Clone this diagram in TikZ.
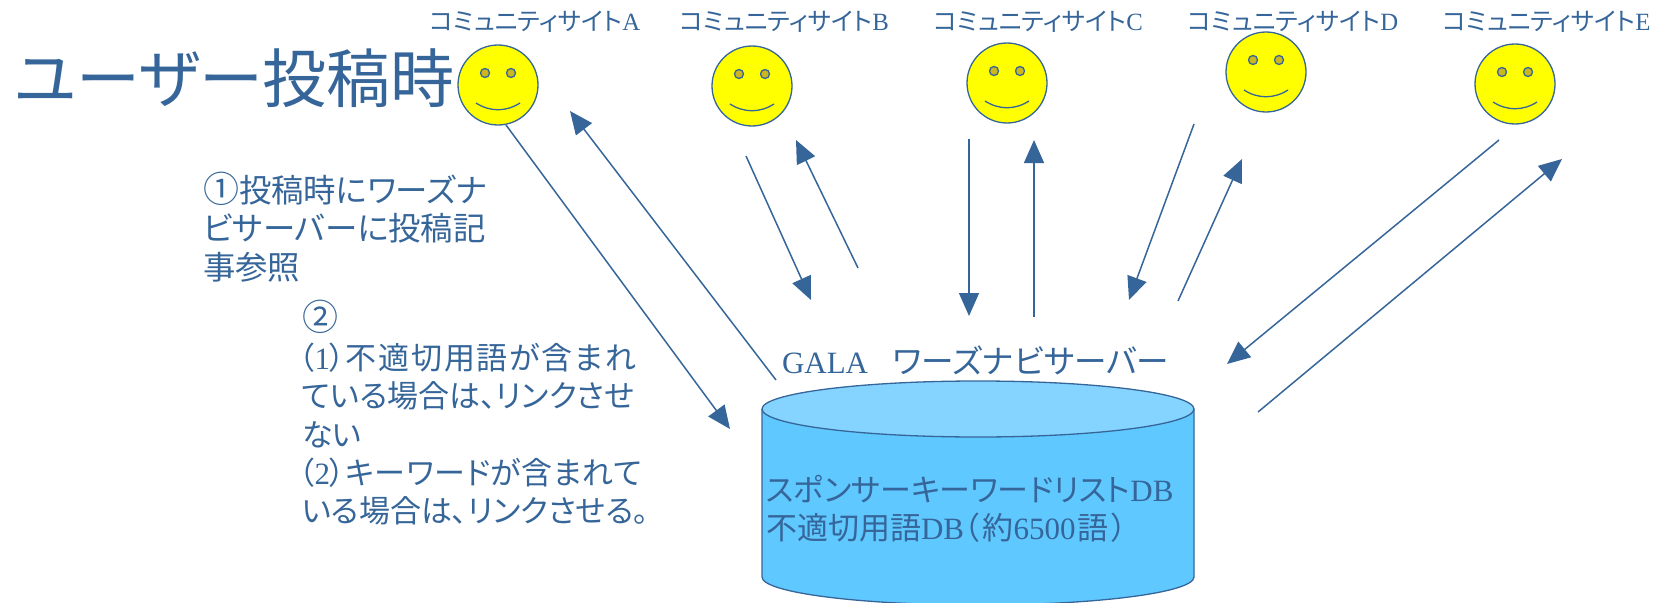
\documentclass[tikz,border=0pt]{standalone}
\usepackage{fontspec}
\usetikzlibrary{arrows.meta}
\setmainfont{Noto Sans CJK JP}[RawFeature=+palt]
\newfontfamily\lat{Liberation Serif}
\definecolor{ink}{HTML}{366699}
\definecolor{dbside}{HTML}{5FC8FF}
\definecolor{dbtop}{HTML}{85D3FF}
\definecolor{eye}{HTML}{CCB81E}
\definecolor{smiley}{HTML}{FFFF00}
\newcommand{\fs}[2]{\fontsize{#1}{#2}\selectfont}
\newcommand{\bigmark}[1]{{\fontsize{36}{38}\selectfont #1}}
\tikzset{
  x=1pt,y=-1pt,
  txt/.style={inner sep=0pt,outer sep=0pt,text=ink,anchor=base west,align=left},
  site/.style={txt,font=\fs{24.8}{30}},
  face/.style={circle,draw=ink,line width=1.3pt,fill=smiley,minimum size=80pt,inner sep=0pt},
  eyeball/.style={circle,draw=ink,line width=1.3pt,fill=eye,minimum size=9pt,inner sep=0pt},
  smile/.style={draw=ink,line width=1.3pt},
  conn/.style={draw=ink,line width=1.5pt},
  arr/.style={conn,-{Stealth[length=23pt,width=20pt,inset=0pt]}},
  dbline/.style={draw=ink,line width=1.3pt}
}
\begin{document}
\begin{tikzpicture}
\useasboundingbox (0,0) rectangle (1656,602);
% faces
\foreach \n/\cx/\cy in {A/498/85,B/752/86,C/1007/83,D/1266/72,E/1515/84}{
  \node[face] (face\n) at (\cx,\cy) {};
  \node[eyeball] (eyeL\n) at (\cx-13,\cy-12) {};
  \node[eyeball] (eyeR\n) at (\cx+13,\cy-12) {};
  \draw[smile] (\cx-22,\cy+18) .. controls (\cx-8,\cy+27) and (\cx+8,\cy+27) .. (\cx+22,\cy+18);
}
% site labels
\node[site] (siteA) at (430,31) {コミュニティサイト{\lat A}};
\node[site] (siteB) at (680,31) {コミュニティサイト{\lat B}};
\node[site] (siteC) at (934,31) {コミュニティサイト{\lat C}};
\node[site] (siteD) at (1188,31) {コミュニティサイト{\lat D}};
\node[site] (siteE) at (1443,31) {コミュニティサイト{\lat E}};
% title
\node[txt,font=\fs{64}{70}] (title) at (14,102) {ユーザー投稿時};
% notes
\node[txt,font=\fs{32.4}{38.5},anchor=north west] (noteA) at (203,172) {\bigmark{①}投稿時にワーズナ\\ビサーバーに投稿記\\事参照};
\node[txt,font=\fs{31}{38.4},anchor=north west] (noteB) at (302,300.5) {\bigmark{②}\\\hspace*{-3pt}（{\lat 1}）{\addfontfeature{LetterSpace=6}不適切用語が含まれ}\\ている場合は、リンクさせ\\ない\\\hspace*{-3pt}（{\lat 2}）{\addfontfeature{LetterSpace=2}キーワードが含まれて}\\いる場合は、リンクさせる。};
% database
\path[fill=dbside] (762,409) -- (762,577) arc[start angle=180,end angle=0,x radius=216,y radius=28] -- (1194,409) -- cycle;
\draw[dbline] (762,409) -- (762,577) arc[start angle=180,end angle=0,x radius=216,y radius=28] -- (1194,409);
\draw[dbline,fill=dbtop] (978,409) ellipse[x radius=216,y radius=28];
\node[txt,font=\fs{31}{38.4},anchor=north west] (dbtext) at (766,475) {スポンサーキーワードリスト{\lat DB}\\不適切用語{\lat DB}（\hspace{3pt}約{\lat 6500}\hspace{2pt}語\hspace{3pt}）};
\node[txt,font=\fs{32.6}{38}] (server) at (782,373) {{\lat\fontsize{31}{38}\selectfont GALA}\hspace{25pt}ワーズナビサーバー};
% connector ends
\foreach \n/\x/\y in {
 a1/506/125,a2/730/429,a3/776/380,a4/570/111,
 b1/746/156,b2/811/300,b3/858/268,b4/796/140,
 c1/969/139,c2/969/316,c3/1034/317,c4/1034/140,
 d1/1194/124,d2/1129/300,d3/1178/301,d4/1242/159,
 e1/1499/140,e2/1227/364,e3/1258/412,e4/1562/159}{
  \coordinate (\n) at (\x,\y);
}
\draw[arr] (a1) -- (a2);
\draw[arr] (a3) -- (a4);
\draw[arr] (b1) -- (b2);
\draw[arr] (b3) -- (b4);
\draw[arr] (c1) -- (c2);
\draw[arr] (c3) -- (c4);
\draw[arr] (d1) -- (d2);
\draw[arr] (d3) -- (d4);
\draw[arr] (e1) -- (e2);
\draw[arr] (e3) -- (e4);
\end{tikzpicture}
\end{document}
